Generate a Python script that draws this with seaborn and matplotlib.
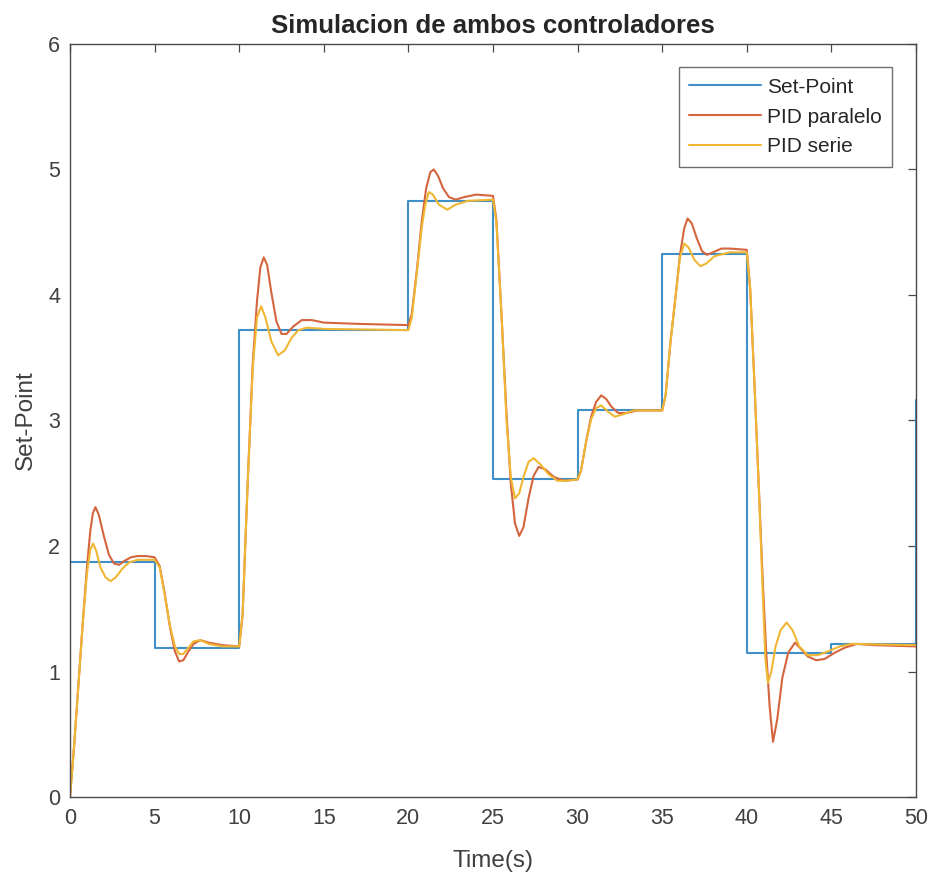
import matplotlib
matplotlib.use("Agg")
import matplotlib.pyplot as plt
import seaborn as sns
import pandas as pd

# ---------------- data ----------------
setpoint_t = [0, 5, 10, 15, 20, 25, 30, 35, 40, 45, 50]
setpoint_v = [1.87, 1.19, 3.72, 3.72, 4.75, 2.53, 3.08, 4.33, 1.15, 1.22, 3.16]

pid_paralelo = [
    (0, 0), (0.25, 0.42), (0.5, 0.9), (0.75, 1.38), (1.0, 1.83), (1.2, 2.12), (1.35, 2.26),
    (1.5, 2.31), (1.7, 2.25), (2.0, 2.08), (2.3, 1.93), (2.6, 1.86), (2.9, 1.85), (3.2, 1.88),
    (3.6, 1.91), (4.0, 1.92), (4.5, 1.92), (5.0, 1.91), (5.3, 1.84), (5.6, 1.62), (5.9, 1.36),
    (6.2, 1.16), (6.45, 1.08), (6.7, 1.09), (7.0, 1.16), (7.3, 1.22), (7.7, 1.25), (8.2, 1.23),
    (9.0, 1.21), (10.0, 1.20), (10.2, 1.45), (10.5, 2.5), (10.8, 3.45), (11.05, 3.95),
    (11.25, 4.22), (11.45, 4.30), (11.65, 4.24), (11.9, 4.02), (12.2, 3.79), (12.5, 3.69),
    (12.8, 3.69), (13.2, 3.75), (13.7, 3.80), (14.3, 3.80), (15.0, 3.78), (17.0, 3.77),
    (20.0, 3.76), (20.2, 3.85), (20.5, 4.2), (20.8, 4.6), (21.05, 4.85), (21.3, 4.98),
    (21.5, 5.00), (21.75, 4.95), (22.05, 4.85), (22.4, 4.78), (22.8, 4.76), (23.3, 4.78),
    (24.0, 4.80), (25.0, 4.79), (25.2, 4.60), (25.5, 3.85), (25.8, 3.05), (26.05, 2.50),
    (26.3, 2.18), (26.55, 2.08), (26.8, 2.15), (27.1, 2.38), (27.4, 2.56), (27.7, 2.63),
    (28.1, 2.61), (28.6, 2.55), (29.2, 2.52), (30.0, 2.53), (30.2, 2.60), (30.5, 2.83),
    (30.8, 3.03), (31.1, 3.15), (31.4, 3.20), (31.7, 3.17), (32.0, 3.11), (32.4, 3.06),
    (32.9, 3.06), (33.5, 3.08), (35.0, 3.08), (35.2, 3.2), (35.5, 3.64), (35.8, 4.0),
    (36.05, 4.32), (36.3, 4.53), (36.5, 4.61), (36.75, 4.57), (37.05, 4.45), (37.35, 4.35),
    (37.65, 4.32), (38.0, 4.34), (38.5, 4.37), (39.0, 4.37), (40.0, 4.36), (40.2, 4.05),
    (40.45, 3.3), (40.7, 2.5), (40.95, 1.7), (41.15, 1.15), (41.35, 0.72), (41.55, 0.44),
    (41.8, 0.62), (42.1, 0.95), (42.45, 1.15), (42.85, 1.23), (43.2, 1.18), (43.6, 1.12),
    (44.1, 1.09), (44.6, 1.10), (45.2, 1.15), (45.8, 1.19), (46.5, 1.22), (47.5, 1.21),
    (50.0, 1.20),
]

pid_serie = [
    (0, 0), (0.25, 0.42), (0.5, 0.9), (0.75, 1.38), (1.0, 1.78), (1.2, 1.97), (1.37, 2.02),
    (1.55, 1.96), (1.8, 1.83), (2.1, 1.75), (2.4, 1.72), (2.7, 1.75), (3.1, 1.82), (3.5, 1.87),
    (4.0, 1.89), (5.0, 1.89), (5.3, 1.83), (5.6, 1.61), (5.9, 1.37), (6.2, 1.20), (6.45, 1.14),
    (6.7, 1.14), (7.0, 1.19), (7.3, 1.24), (7.7, 1.25), (8.2, 1.22), (9.0, 1.20), (10.0, 1.20),
    (10.2, 1.45), (10.5, 2.5), (10.8, 3.42), (11.05, 3.82), (11.3, 3.91), (11.55, 3.82),
    (11.9, 3.63), (12.3, 3.52), (12.7, 3.56), (13.1, 3.66), (13.5, 3.72), (14.0, 3.74),
    (15.0, 3.73), (20.0, 3.72), (20.2, 3.82), (20.5, 4.18), (20.8, 4.55), (21.0, 4.72),
    (21.2, 4.82), (21.45, 4.80), (21.8, 4.72), (22.3, 4.68), (22.8, 4.72), (23.5, 4.75),
    (25.0, 4.76), (25.2, 4.58), (25.5, 3.85), (25.8, 3.0), (26.05, 2.55), (26.3, 2.38),
    (26.55, 2.42), (26.8, 2.55), (27.1, 2.67), (27.4, 2.70), (27.8, 2.65), (28.3, 2.57),
    (28.8, 2.52), (29.3, 2.52), (30.0, 2.53), (30.2, 2.60), (30.5, 2.83), (30.8, 3.01),
    (31.1, 3.10), (31.4, 3.12), (31.8, 3.07), (32.2, 3.03), (32.7, 3.05), (33.3, 3.08),
    (35.0, 3.08), (35.2, 3.2), (35.5, 3.64), (35.8, 4.0), (36.05, 4.30), (36.3, 4.41),
    (36.55, 4.38), (36.9, 4.28), (37.25, 4.23), (37.6, 4.25), (38.1, 4.31), (39.0, 4.34),
    (40.0, 4.34), (40.2, 4.05), (40.45, 3.3), (40.7, 2.5), (40.95, 1.6), (41.1, 1.1),
    (41.25, 0.91), (41.45, 1.0), (41.7, 1.2), (42.0, 1.33), (42.35, 1.39), (42.7, 1.33),
    (43.1, 1.20), (43.6, 1.13), (44.2, 1.13), (44.8, 1.16), (45.5, 1.20), (46.2, 1.22),
    (50.0, 1.21),
]

series_labels = ["Set-Point", "PID paralelo", "PID serie"]
x_ticks = [0, 5, 10, 15, 20, 25, 30, 35, 40, 45, 50]
y_ticks = [0, 1, 2, 3, 4, 5, 6]

# ---------------- style ----------------
sns.set_theme(style="white")
plt.rcParams["font.family"] = ["Liberation Sans", "DejaVu Sans"]

colors = ["#3f8fc8", "#d4653f", "#efb733"]
axis_col = "#4a4a4a"

fig = plt.figure(figsize=(9.32, 8.73), dpi=100)
ax = fig.add_axes([70 / 932, 1 - 797 / 873, 846 / 932, 753 / 873])

df_sp = pd.DataFrame({"t": setpoint_t, "v": setpoint_v})
df_par = pd.DataFrame(pid_paralelo, columns=["t", "v"])
df_ser = pd.DataFrame(pid_serie, columns=["t", "v"])

sns.lineplot(data=df_sp, x="t", y="v", ax=ax, color=colors[0], lw=1.5,
             drawstyle="steps-post", sort=False, estimator=None, label=series_labels[0])
sns.lineplot(data=df_par, x="t", y="v", ax=ax, color=colors[1], lw=1.5,
             sort=False, estimator=None, label=series_labels[1])
sns.lineplot(data=df_ser, x="t", y="v", ax=ax, color=colors[2], lw=1.5,
             sort=False, estimator=None, label=series_labels[2])

ax.set_xlim(0, 50)
ax.set_ylim(0, 6)
ax.set_xticks(x_ticks)
ax.set_yticks(y_ticks)

for s in ax.spines.values():
    s.set_visible(True)
    s.set_color(axis_col)
    s.set_linewidth(1.0)

ax.tick_params(direction="in", length=6, width=0.9, colors=axis_col,
               top=True, right=True, labelsize=15.5, labelcolor="#404040")
ax.tick_params(axis="x", pad=8)
ax.tick_params(axis="y", pad=7)

ax.set_xlabel("Time(s)", fontsize=17.5, color="#404040", labelpad=15)
ax.set_ylabel("Set-Point", fontsize=17.5, color="#404040", labelpad=8)
ax.set_title("Simulacion de ambos controladores", fontsize=18.5, fontweight="bold",
             color="#262626", pad=8)

leg = ax.legend(loc="upper right", bbox_to_anchor=(0.972, 0.969), borderaxespad=0,
                fontsize=15, frameon=True, fancybox=False, handlelength=3.45,
                handletextpad=0.3, labelspacing=0.52, borderpad=0.5)
leg.get_frame().set_edgecolor(axis_col)
leg.get_frame().set_linewidth(1.0)
for t in leg.get_texts():
    t.set_color("#262626")

fig.savefig("out.png", dpi=100, facecolor="white")
